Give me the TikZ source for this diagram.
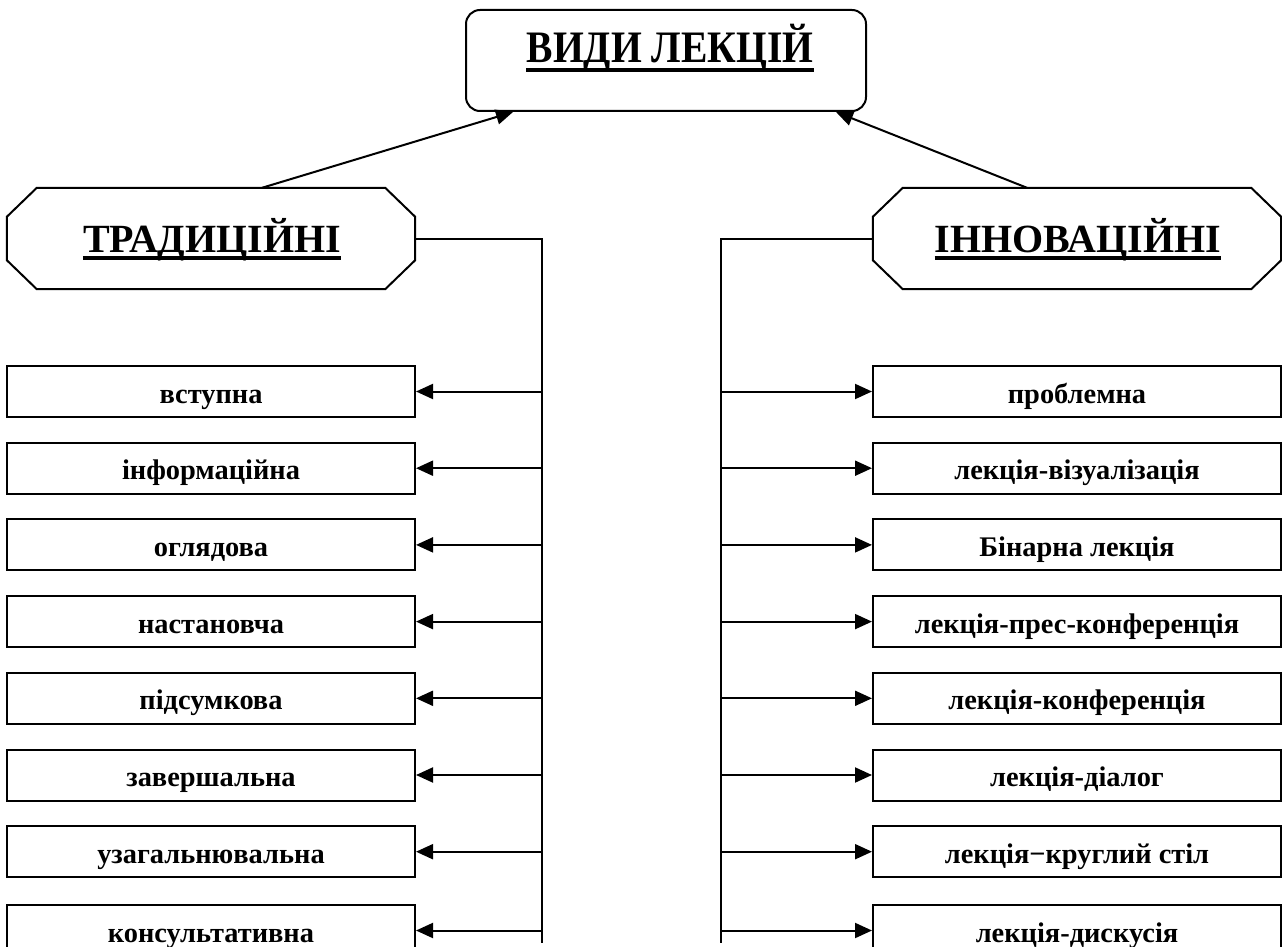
\documentclass[tikz,border=0pt]{standalone}
\usepackage{fontspec}
\setmainfont{Liberation Serif}
\newfontfamily\condserif[FakeStretch=0.88]{Liberation Serif}
\usetikzlibrary{arrows.meta,calc}
\begin{document}
\begin{tikzpicture}[x=1pt,y=-1pt,
  lbox/.style={draw,line width=2pt,minimum width=408pt,minimum height=51pt,inner sep=0pt,
    font=\fontsize{28.4}{30}\selectfont\bfseries,text height=26pt,text depth=3pt},
  conn/.style={line width=2pt},
  arr/.style={line width=2pt,-{Triangle[length=17pt,width=15pt]}},
  headtxt/.style={inner sep=0pt,anchor=base},
  uline/.style={line width=3.5pt},
  octo/.style={line width=2pt}
]
\useasboundingbox (0,0) rectangle (1282,947);
\clip (0,0) rectangle (1282,947);

% title
\node[draw,line width=2pt,rounded corners=14pt,minimum width=400pt,minimum height=101pt] (top) at (666,60.5) {};
\node[headtxt,font=\condserif\fontsize{45}{48}\selectfont\bfseries] (tt) at (670,63) {ВИДИ ЛЕКЦІЙ};
\draw[uline] ($(tt.base west)+(0,7)$) -- ($(tt.base east)+(0,7)$);

% octagons
\node[minimum width=408pt,minimum height=101pt,inner sep=0pt] (trad) at (211,238.5) {};
\node[minimum width=408pt,minimum height=101pt,inner sep=0pt] (inno) at (1077,238.5) {};
\foreach \o in {trad,inno}{
\draw[octo] ([xshift=30pt]\o.north west) -- ([xshift=-30pt]\o.north east) -- ([yshift=-29pt]\o.north east)
  -- ([yshift=29pt]\o.south east) -- ([xshift=-30pt]\o.south east) -- ([xshift=30pt]\o.south west)
  -- ([yshift=29pt]\o.south west) -- ([yshift=-29pt]\o.north west) -- cycle;
}
\node[headtxt,font=\fontsize{40}{44}\selectfont\bfseries] (tradt) at (212,252) {ТРАДИЦІЙНІ};
\draw[uline] ($(tradt.base west)+(0,6)$) -- ($(tradt.base east)+(0,6)$);
\node[headtxt,font=\fontsize{40}{44}\selectfont\bfseries] (innot) at (1078,252) {ІННОВАЦІЙНІ};
\draw[uline] ($(innot.base west)+(0,6)$) -- ($(innot.base east)+(0,6)$);

\draw[arr] ([xshift=51pt]trad.north) -- ([xshift=48pt]top.south west);
\draw[arr] ([xshift=-50pt]inno.north) -- ([xshift=-31pt]top.south east);

% buses
\coordinate (lbus) at (542,943);
\coordinate (rbus) at (721,943);
\draw[conn] (trad.east) -| (lbus);
\draw[conn] (inno.west) -| (rbus);

% left boxes
\foreach \i/\y/\t in {1/391.5/вступна,2/468.2/інформаційна,3/544.9/оглядова,4/621.6/настановча,5/698.3/підсумкова,6/775/завершальна,7/851.7/узагальнювальна,8/930.5/консультативна}{
  \node[lbox] (L\i) at (211,\y) {\t};
  \draw[arr] (L\i.east -| lbus) -- (L\i.east);
}
% right boxes
\foreach \i/\y/\t in {1/391.5/проблемна,2/468.2/лекція-візуалізація,3/544.9/Бінарна лекція,4/621.6/лекція-прес-конференція,5/698.3/лекція-конференція,6/775/лекція-діалог,7/851.7/лекція−круглий стіл,8/930.5/лекція-дискусія}{
  \node[lbox] (R\i) at (1077,\y) {\t};
  \draw[arr] (R\i.west -| rbus) -- (R\i.west);
}
\end{tikzpicture}
\end{document}
